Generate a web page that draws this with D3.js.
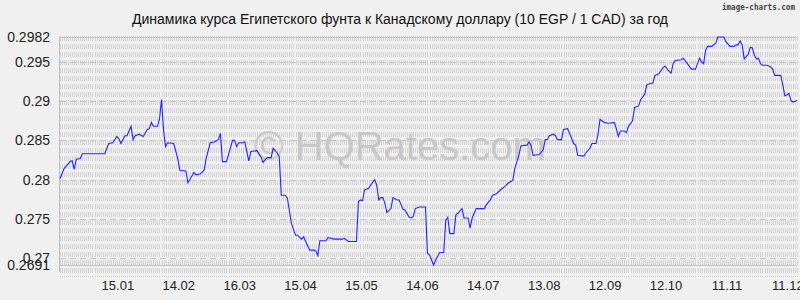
<!DOCTYPE html>
<html>
<head>
<meta charset="utf-8">
<script src="https://d3js.org/d3.v7.min.js"></script>
<style>
  body { margin: 0; background: #f0f0f0; }
  svg { display: block; }
</style>
</head>
<body>
<div id="chart"></div>
<script>
// day offsets from the first day and the EGP/CAD rate (10 EGP / 1 CAD)
var days = [0, 2, 3, 5, 6, 7, 8, 10, 11, 22, 24, 26, 28, 29, 30, 32, 33, 35, 36, 37,
  39, 41, 43, 44, 45, 46, 48, 49, 50, 51, 52, 53, 56, 58, 59, 62, 63, 66, 67, 69,
  71, 72, 74, 76, 78, 79, 80, 82, 85, 86, 87, 88, 90, 91, 93, 94, 97, 99, 100, 102,
  104, 105, 107, 108, 109, 111, 112, 114, 116, 117, 119, 120, 121, 123, 125, 126, 127, 128, 131, 132,
  135, 139, 140, 142, 146, 147, 148, 149, 150, 152, 153, 155, 156, 157, 158, 159, 160, 161, 163, 164,
  166, 167, 169, 170, 172, 173, 174, 175, 177, 180, 181, 182, 184, 185, 186, 187, 189, 190, 191, 192,
  194, 195, 196, 198, 199, 201, 202, 203, 204, 205, 209, 210, 212, 213, 215, 217, 219, 221, 223, 224,
  226, 227, 230, 231, 232, 233, 236, 238, 239, 240, 241, 243, 244, 245, 247, 248, 250, 251, 253, 254,
  255, 258, 259, 261, 262, 264, 265, 266, 268, 270, 273, 274, 275, 276, 278, 279, 280, 282, 283, 285,
  286, 288, 289, 291, 292, 293, 295, 297, 298, 300, 301, 302, 303, 306, 307, 309, 311, 313, 314, 315,
  316, 317, 318, 319, 321, 323, 324, 327, 328, 330, 332, 333, 334, 335, 336, 337, 339, 340, 341, 342,
  343, 344, 345, 346, 348, 350, 351, 352, 355, 356, 357, 358, 359, 360, 361, 362, 363];
var rates = [0.2801, 0.2814, 0.2817, 0.2823, 0.2824, 0.2813, 0.2826, 0.2827, 0.2833, 0.2833, 0.2846, 0.2847, 0.2855, 0.2852, 0.2846, 0.2856, 0.2856, 0.2868, 0.2851, 0.2856,
  0.2858, 0.2855, 0.2864, 0.2865, 0.2873, 0.2868, 0.2868, 0.2877, 0.2902, 0.2863, 0.2842, 0.2847, 0.2846, 0.2827, 0.2812, 0.2811, 0.2796, 0.2809, 0.2806, 0.2807,
  0.2812, 0.2827, 0.2847, 0.2848, 0.2851, 0.2859, 0.2823, 0.2823, 0.2850, 0.2850, 0.2842, 0.2847, 0.2847, 0.2848, 0.2824, 0.2836, 0.2837, 0.2829, 0.2822, 0.2828,
  0.2828, 0.2840, 0.2834, 0.2829, 0.2780, 0.2780, 0.2776, 0.2744, 0.2729, 0.2729, 0.2724, 0.2727, 0.2721, 0.2710, 0.2710, 0.2709, 0.2703, 0.2722, 0.2722, 0.2726,
  0.2724, 0.2724, 0.2725, 0.2721, 0.2721, 0.2772, 0.2774, 0.2773, 0.2787, 0.2789, 0.2793, 0.2800, 0.2793, 0.2774, 0.2777, 0.2777, 0.2770, 0.2758, 0.2763, 0.2777,
  0.2774, 0.2774, 0.2762, 0.2761, 0.2752, 0.2751, 0.2753, 0.2763, 0.2765, 0.2765, 0.2706, 0.2704, 0.2691, 0.2697, 0.2702, 0.2707, 0.2707, 0.2748, 0.2752, 0.2731,
  0.2731, 0.2755, 0.2757, 0.2763, 0.2751, 0.2751, 0.2738, 0.2751, 0.2757, 0.2763, 0.2763, 0.2768, 0.2774, 0.2780, 0.2782, 0.2787, 0.2791, 0.2796, 0.2799, 0.2814,
  0.2831, 0.2843, 0.2844, 0.2848, 0.2844, 0.2831, 0.2832, 0.2838, 0.2851, 0.2851, 0.2856, 0.2858, 0.2856, 0.2851, 0.2851, 0.2864, 0.2865, 0.2859, 0.2846, 0.2844,
  0.2831, 0.2830, 0.2834, 0.2840, 0.2846, 0.2846, 0.2858, 0.2877, 0.2873, 0.2872, 0.2873, 0.2865, 0.2855, 0.2862, 0.2862, 0.2860, 0.2868, 0.2875, 0.2892, 0.2894,
  0.2902, 0.2909, 0.2921, 0.2923, 0.2923, 0.2933, 0.2935, 0.2943, 0.2945, 0.2938, 0.2936, 0.2948, 0.2952, 0.2953, 0.2955, 0.2948, 0.2941, 0.2941, 0.2948, 0.2955,
  0.2950, 0.2948, 0.2965, 0.2970, 0.2970, 0.2974, 0.2982, 0.2982, 0.2976, 0.2970, 0.2970, 0.2972, 0.2972, 0.2977, 0.2972, 0.2954, 0.2960, 0.2969, 0.2968, 0.2959,
  0.2954, 0.2955, 0.2948, 0.2946, 0.2946, 0.2944, 0.2941, 0.2933, 0.2933, 0.2921, 0.2907, 0.2908, 0.2910, 0.2901, 0.2899, 0.2900, 0.2901];

var yTicks = [0.2691, 0.27, 0.275, 0.28, 0.285, 0.29, 0.295, 0.2982];
var xTickDates = ["2019-01-15", "2019-02-14", "2019-03-16", "2019-04-15", "2019-05-15", "2019-06-14",
  "2019-07-14", "2019-08-13", "2019-09-12", "2019-10-12", "2019-11-11", "2019-12-11"];
var title = "Динамика курса Египетского фунта к Канадскому доллару (10 EGP / 1 CAD) за год";

var W = 800, H = 300;
var start = new Date(2018, 11, 17, 12);
var parse = d3.timeParse("%Y-%m-%d");
var data = days.map(function(d, i) { return { date: d3.timeDay.offset(start, d), v: rates[i] }; });

var x = d3.scaleTime()
  .domain([start, d3.timeDay.offset(start, 363)])
  .range([60, 797]);
var y = d3.scaleLinear()
  .domain([0.2691, 0.2982])
  .range([265, 37]);

var svg = d3.select("#chart").append("svg")
  .attr("width", W).attr("height", H)
  .style("font-family", "'Liberation Sans', Arial, sans-serif");

svg.append("rect").attr("width", W).attr("height", H).attr("fill", "#f0f0f0");

// dense dashed vertical grid, one line per day
svg.append("g").selectAll("line")
  .data(d3.range(0, 364))
  .join("line")
  .attr("x1", function(d) { return Math.round(x(d3.timeDay.offset(start, d))) + 0.5; })
  .attr("x2", function(d) { return Math.round(x(d3.timeDay.offset(start, d))) + 0.5; })
  .attr("y1", 36).attr("y2", 277)
  .attr("stroke", "#d3d3d3")
  .attr("stroke-dasharray", "5,3");

// horizontal grid
svg.append("g").selectAll("line")
  .data(yTicks)
  .join("line")
  .attr("x1", 60).attr("x2", 797)
  .attr("y1", function(d) { return Math.round(y(d)) + 0.5; })
  .attr("y2", function(d) { return Math.round(y(d)) + 0.5; })
  .attr("stroke", "#c4c4c4")
  .attr("stroke-dasharray", function(d, i) { return (i == 0 || i == yTicks.length - 1) ? null : "6,4"; });

svg.append("line")
  .attr("x1", 59.5).attr("x2", 59.5).attr("y1", 36).attr("y2", 272)
  .attr("stroke", "#c0c0c0");

// watermark
svg.append("text")
  .attr("x", 400).attr("y", 160)
  .attr("text-anchor", "middle")
  .attr("font-size", 40)
  .attr("fill", "#c8c8c8")
  .text("© HQRates.com");

// y labels
svg.append("g").selectAll("text")
  .data(yTicks)
  .join("text")
  .attr("x", 50)
  .attr("y", function(d) { return y(d) + 5; })
  .attr("text-anchor", "end")
  .attr("font-size", 14)
  .attr("fill", "#222")
  .text(function(d) { return d; });

// x labels
svg.append("g").selectAll("text")
  .data(xTickDates.map(parse))
  .join("text")
  .attr("x", function(d) { return x(d); })
  .attr("y", 290)
  .attr("text-anchor", "middle")
  .attr("font-size", 13)
  .attr("fill", "#222")
  .text(d3.timeFormat("%d.%m"));

var line = d3.line()
  .x(function(d) { return x(d.date); })
  .y(function(d) { return y(d.v); });

svg.append("path")
  .datum(data)
  .attr("d", line)
  .attr("fill", "none")
  .attr("stroke", "#2424ff")
  .attr("stroke-width", 1.1);

svg.append("text")
  .attr("x", 400).attr("y", 24)
  .attr("text-anchor", "middle")
  .attr("font-size", 14)
  .attr("fill", "#111")
  .text(title);

svg.append("text")
  .attr("x", 795).attr("y", 10)
  .attr("text-anchor", "end")
  .attr("font-family", "'DejaVu Sans Mono', monospace")
  .attr("font-weight", "bold")
  .attr("font-size", 9.5)
  .attr("textLength", 73)
  .attr("lengthAdjust", "spacingAndGlyphs")
  .attr("fill", "#444")
  .text("image-charts.com");
</script>
</body>
</html>
